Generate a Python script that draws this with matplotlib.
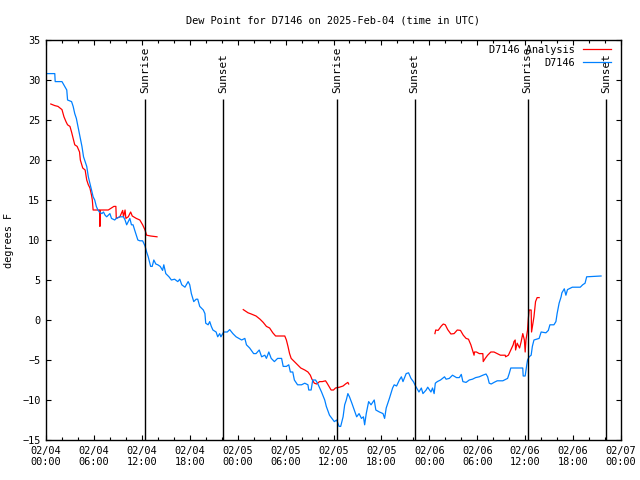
import numpy as np
import pandas as pd
import matplotlib
matplotlib.use("Agg")
import matplotlib.pyplot as plt
import matplotlib.dates as mdates

base = pd.Timestamp("2025-02-04 00:00")

# Observed dew point (hours after base, degrees F)
obs_hours = [0.0, 1.1, 1.15, 2.0, 2.6, 2.7, 3.2, 3.4, 3.6, 3.8, 4.0, 4.25, 4.5, 4.7, 4.9, 5.1, 5.3, 5.5, 5.7, 5.9,
             6.1, 6.3, 6.5, 6.7, 7.0, 7.2, 7.4, 7.6, 8.0, 8.2, 8.6, 8.8, 9.25, 9.7, 9.9, 10.1, 10.5, 10.7, 10.9, 11.1,
             11.5, 11.75, 12.1, 12.4, 12.6, 12.8, 13.1, 13.3, 13.5, 13.75, 14.0, 14.3, 14.6, 14.75, 15.0, 15.4, 15.7,
             16.1, 16.5, 16.75, 17.0, 17.4, 17.8, 18.0, 18.2, 18.5, 18.8, 19.0, 19.25, 19.7, 19.9, 20.0, 20.3, 20.5,
             20.7, 20.9, 21.3, 21.5, 21.75, 21.9, 22.25, 22.7, 23.0, 23.4, 23.8, 24.5, 24.9, 25.1, 25.5, 26.0, 26.3,
             26.7, 27.0, 27.4, 27.6, 27.9, 28.2, 28.6, 29.0, 29.5, 29.7, 30.1, 30.4, 30.6, 30.9, 31.1, 31.5, 32.0,
             32.4, 32.8, 32.9, 33.2, 33.4, 33.75, 34.0, 34.5, 34.9, 35.1, 35.5, 35.8, 36.1, 36.4, 36.7, 36.9, 37.2,
             37.4, 37.6, 37.8, 38.0, 38.3, 38.6, 38.9, 39.2, 39.5, 39.75, 39.9, 40.1, 40.4, 40.7, 41.1, 41.3, 41.75,
             42.2, 42.4, 42.6, 43.0, 43.4, 43.6, 43.9, 44.25, 44.5, 44.7, 45.1, 45.4, 45.7, 46.0, 46.3, 46.7, 47.0,
             47.2, 47.6, 47.8, 48.2, 48.4, 48.6, 48.75, 49.0, 49.4, 49.9, 50.1, 50.5, 50.9, 51.4, 51.75, 52.0, 52.2,
             52.6, 53.0, 53.4, 53.8, 54.25, 54.7, 55.1, 55.3, 55.5, 55.75, 56.1, 56.5, 57.2, 57.6, 57.8, 58.0, 58.2,
             59.7, 59.75, 60.0, 60.2, 60.3, 60.5, 60.75, 60.9, 61.1, 61.75, 62.0, 62.6, 62.9, 63.1, 63.6, 63.85,
             64.0, 64.25, 64.5, 64.6, 64.9, 65.1, 65.3, 65.9, 66.9, 67.2, 67.5, 67.7, 69.5]
obs_values = [30.8, 30.8, 29.8, 29.8, 28.75, 27.5, 27.3, 26.7, 25.8, 25.2, 24.2, 22.9, 21.7, 20.4, 19.8, 19.2, 17.9,
              17.1, 16.25, 15.4, 15.0, 14.2, 13.75, 13.5, 13.3, 13.5, 13.1, 12.9, 13.3, 12.7, 12.5, 12.7, 12.9, 12.9,
              12.5, 11.9, 12.7, 11.9, 11.9, 11.25, 10.0, 9.9, 9.9, 9.25, 8.5, 7.9, 6.7, 6.7, 7.5, 7.0, 6.9, 6.7, 6.2,
              6.9, 5.8, 5.4, 5.0, 5.1, 4.8, 5.1, 4.4, 4.1, 4.8, 4.4, 3.3, 2.3, 2.6, 2.6, 1.7, 1.25, 0.8, -0.4, -0.6,
              -0.2, -0.8, -1.25, -1.5, -2.1, -1.7, -2.1, -1.5, -1.5, -1.2, -1.7, -2.1, -2.5, -2.3, -3.1, -3.5, -4.2,
              -4.2, -3.75, -4.6, -4.4, -4.8, -4.0, -4.8, -5.2, -4.8, -4.8, -5.8, -5.8, -5.6, -6.5, -6.5, -7.5, -8.1,
              -8.1, -7.9, -8.1, -8.75, -8.75, -7.5, -7.5, -7.9, -9.0, -10.0, -10.8, -11.9, -12.3, -12.7, -12.5, -13.3,
              -13.3, -12.1, -10.6, -10.0, -9.2, -9.6, -10.4, -11.25, -12.1, -11.7, -12.3, -12.1, -13.1, -11.7, -10.2,
              -10.6, -10.0, -11.25, -11.5, -11.7, -12.3, -11.0, -9.8, -8.5, -8.1, -8.25, -7.5, -7.1, -7.7, -6.7, -6.6,
              -7.3, -7.7, -8.3, -9.0, -8.5, -9.2, -8.75, -8.4, -9.0, -8.5, -9.2, -7.9, -7.7, -7.5, -7.1, -7.4, -7.3,
              -6.9, -7.2, -7.2, -6.8, -7.7, -7.8, -7.5, -7.4, -7.2, -7.1, -6.9, -6.75, -7.1, -7.9, -8.0, -7.8, -7.6,
              -7.6, -7.4, -7.3, -6.7, -6.0, -6.0, -7.0, -7.0, -5.6, -5.0, -4.6, -4.4, -3.3, -2.5, -2.3, -1.5, -1.6,
              -1.3, -0.6, -0.6, -0.2, 0.8, 2.1, 2.9, 3.4, 3.9, 3.1, 3.8, 4.1, 4.1, 4.4, 4.6, 5.4, 5.5]

# Analysis dew point (NaN marks gaps)
ana_hours = [0.6, 1.1, 1.5, 2.0, 2.25, 2.5, 2.7, 3.0, 3.2, 3.4, 3.6, 3.9, 4.2, 4.3, 4.6, 4.9, 5.1, 5.3, 5.5, 5.7,
             5.8, 5.9, 6.7, 6.75, 6.8, 7.8, 8.5, 8.75, 8.8, 9.25, 9.6, 9.7, 9.9, 10.0, 10.3, 10.6, 10.8, 11.3, 11.75,
             12.1, 12.4, 12.6, 13.1, 13.9, 14.0,
             24.7, 25.3, 25.7, 26.3, 26.8, 27.2, 27.6, 28.0, 28.4, 28.75, 29.9, 30.1, 30.3, 30.5, 30.7, 31.1, 31.5,
             31.9, 32.4, 32.8, 33.1, 33.3, 33.6, 33.9, 34.25, 34.6, 35.0, 35.2, 35.5, 35.7, 36.0, 36.25, 36.75, 37.2,
             37.5, 37.8, 37.9, 38.0,
             48.7, 48.8, 49.1, 49.5, 49.75, 50.0, 50.3, 50.7, 51.1, 51.5, 51.9, 52.25, 52.6, 52.9, 53.2, 53.4, 53.6,
             53.65, 53.9, 54.25, 54.7, 54.75, 55.0, 55.3, 55.7, 56.1, 56.5, 56.9, 57.5, 57.55, 57.9, 58.2, 58.5, 58.6,
             58.75, 58.8, 59.0, 59.3, 59.5, 59.7, 59.9, 60.0, 60.1, 60.3, 60.4, 60.5, 60.75, 60.8, 61.0, 61.1, 61.3,
             61.5, 61.75]
ana_values = [27.0, 26.8, 26.7, 26.3, 25.4, 24.8, 24.4, 24.2, 23.5, 22.7, 21.9, 21.7, 21.0, 20.0, 19.0, 18.75, 17.5,
              16.9, 16.5, 15.6, 15.0, 13.75, 13.75, 11.7, 13.75, 13.75, 14.2, 14.2, 12.7, 12.9, 13.7, 12.9, 13.75,
              12.7, 12.9, 13.5, 13.0, 12.7, 12.5, 11.9, 11.25, 10.6, 10.5, 10.4, np.nan,
              1.3, 0.9, 0.75, 0.5, 0.1, -0.3, -0.8, -1.0, -1.6, -2.0, -2.0, -2.5, -3.3, -4.2, -4.8, -5.2, -5.6, -6.0,
              -6.25, -6.5, -6.9, -7.4, -7.9, -8.0, -7.7, -7.7, -7.6, -7.9, -8.4, -8.75, -8.75, -8.5, -8.4, -8.25,
              -8.0, -7.8, -8.0, np.nan,
              -1.7, -1.25, -1.3, -0.75, -0.5, -0.6, -1.2, -1.75, -1.7, -1.25, -1.3, -1.9, -2.3, -2.4, -3.1, -3.75,
              -4.4, -4.0, -4.0, -4.2, -4.2, -5.2, -4.8, -4.4, -4.0, -4.0, -4.2, -4.4, -4.4, -4.6, -4.4, -3.75, -3.1,
              -2.7, -2.5, -3.75, -2.9, -3.5, -2.7, -1.7, -2.5, -4.0, -2.5, -1.25, 0.2, 1.25, 1.25, -1.5, -0.2, 0.4,
              2.3, 2.8, 2.8]

sun_labels = ["Sunrise", "Sunset", "Sunrise", "Sunset", "Sunrise", "Sunset"]
sun_times = ["2025-02-04 12:25", "2025-02-04 22:10", "2025-02-05 12:25",
             "2025-02-05 22:10", "2025-02-06 12:18", "2025-02-06 22:10"]

obs_t = base + pd.to_timedelta(obs_hours, unit="h")
ana_t = base + pd.to_timedelta(ana_hours, unit="h")
sun_t = pd.to_datetime(sun_times)

mono = "DejaVu Sans Mono"
plt.rcParams["font.family"] = mono
fs = 7.4

fig = plt.figure(figsize=(6.4, 4.8), dpi=100)
ax = fig.add_axes([46/640, 1-440/480, (621-46)/640, 400/480])

ax.plot(ana_t, ana_values, color="#ff0000", lw=0.9, label="D7146 Analysis")
ax.plot(obs_t, obs_values, color="#0080ff", lw=0.9, label="D7146")

ymin, ymax = -15, 35
for lab, t in zip(sun_labels, sun_t):
    ax.vlines(t, ymin, 27.6, color="black", lw=1.0)
    ax.text(t, 28.4, lab, rotation=90, ha="center", va="bottom", fontsize=7.9)

ax.set_xlim(pd.Timestamp("2025-02-04 00:00"), pd.Timestamp("2025-02-07 00:00"))
ax.set_ylim(ymin, ymax)
ax.set_yticks(np.arange(-15, 36, 5))
ax.xaxis.set_major_locator(mdates.HourLocator(byhour=range(0, 24, 6)))
ax.xaxis.set_minor_locator(mdates.HourLocator(byhour=range(0, 24, 2)))
ax.xaxis.set_major_formatter(mdates.DateFormatter("%m/%d\n%H:%M"))
ax.tick_params(which="both", direction="in", top=True, right=True, labelsize=fs, width=0.8)
ax.tick_params(which="major", length=3.5, pad=4)
ax.tick_params(which="minor", length=2.0)
for s in ax.spines.values():
    s.set_linewidth(1.0)

ax.set_title("Dew Point for D7146 on 2025-Feb-04 (time in UTC)", fontsize=fs, pad=12)
ax.set_ylabel("degrees F", fontsize=fs, labelpad=6)

leg = ax.legend(loc="upper right", bbox_to_anchor=(0.993, 1.003), frameon=False, markerfirst=False,
                fontsize=fs, handlelength=2.7, handletextpad=0.8, labelspacing=0.3, borderaxespad=0.2)

fig.savefig("out.png", dpi=100)
